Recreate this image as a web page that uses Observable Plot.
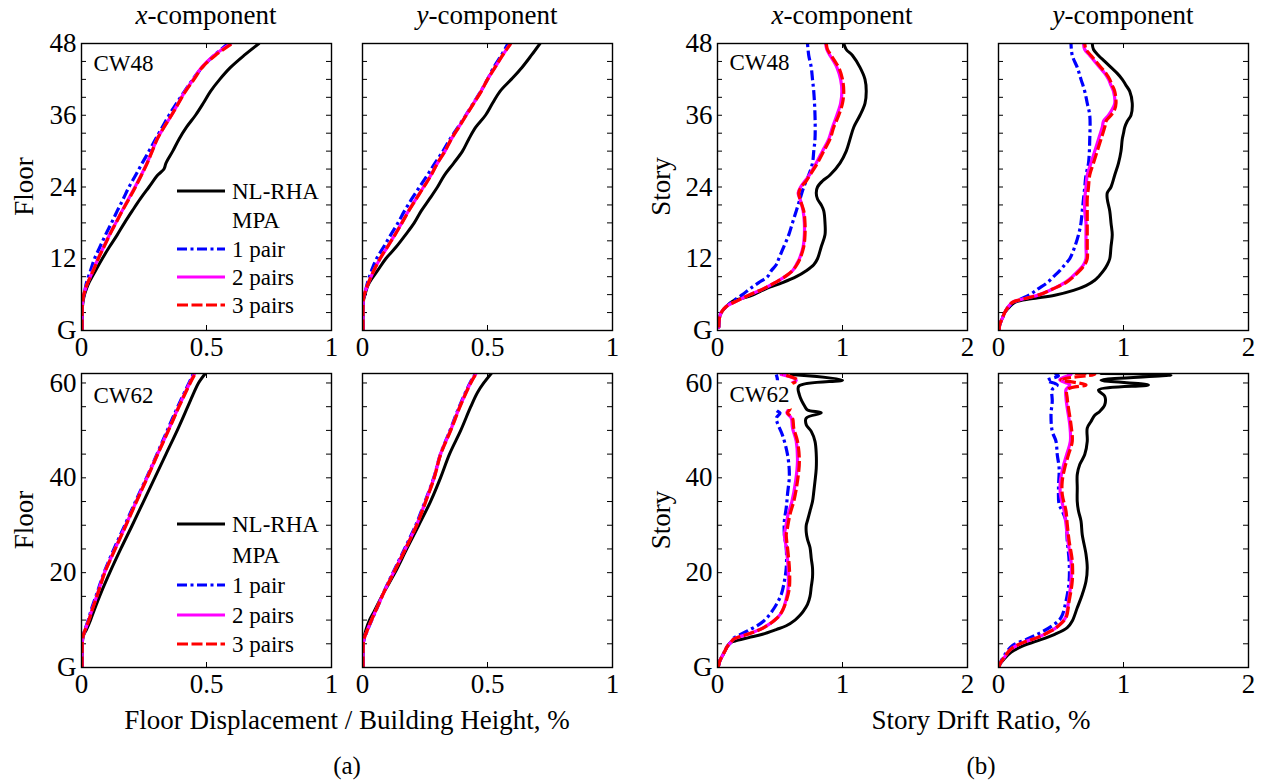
<!DOCTYPE html>
<html><head><meta charset="utf-8">
<script src="https://cdn.jsdelivr.net/npm/d3@7"></script>
<script src="https://cdn.jsdelivr.net/npm/@observablehq/plot@0.6"></script>
<style>
body{margin:0;background:#fff;}
#wrap{position:relative;width:1265px;height:782px;overflow:hidden;font-family:"Liberation Serif","Times New Roman",serif;}
</style></head><body><div id="wrap"></div>
<script>
// ---------- tick arrays ----------
const floorTicks48 = [0,3,6,9,12,15,18,21,24,27,30,33,36,39,42,45,48];
const floorLabels48 = [0,12,24,36,48];
const floorTicks62 = [0,5,10,15,20,25,30,35,40,45,50,55,60];
const floorLabels62 = [0,20,40,60];
const dispTicks = [0,0.5,1];
const driftTicks = [0,1,2];
const seriesNames = ["NL-RHA","1 pair","2 pairs","3 pairs"];

// ---------- CW48, floor displacement / height, x-component: [floor, %] ----------
const dispX48_NL = [[0,0.003],[4,0.004],[5,0.007],[6,0.012],[7,0.02],[8,0.03],[10,0.056],[12,0.083],[14,0.112],[16,0.143],[18,0.172],[20,0.203],[22,0.235],[24,0.27],[26,0.305],[27,0.33],[28,0.338],[30,0.365],[32,0.39],[34,0.42],[36,0.456],[38,0.487],[40,0.516],[42,0.553],[44,0.596],[46,0.65],[48,0.71]];
const dispX48_P1 = [[0,0.002],[4,0.003],[5,0.005],[6,0.01],[7,0.015],[8,0.02],[10,0.036],[12,0.052],[14,0.074],[16,0.096],[18,0.12],[20,0.143],[22,0.167],[24,0.19],[26,0.217],[28,0.243],[30,0.27],[32,0.296],[34,0.323],[36,0.35],[38,0.38],[40,0.412],[42,0.445],[44,0.483],[46,0.53],[48,0.587]];
const dispX48_P2 = [[0,0.002],[4,0.003],[5,0.005],[6,0.009],[7,0.016],[8,0.025],[10,0.046],[12,0.066],[14,0.089],[16,0.112],[18,0.137],[20,0.162],[22,0.188],[24,0.214],[26,0.239],[28,0.262],[30,0.282],[32,0.302],[34,0.33],[36,0.36],[38,0.387],[40,0.414],[42,0.447],[44,0.48],[46,0.53],[48,0.597]];
const dispX48_P3 = [[0,0.002],[4,0.003],[5,0.005],[6,0.009],[7,0.016],[8,0.025],[10,0.047],[12,0.067],[14,0.09],[16,0.113],[18,0.138],[20,0.163],[22,0.19],[24,0.216],[26,0.24],[28,0.263],[30,0.283],[32,0.303],[34,0.33],[36,0.36],[38,0.388],[40,0.416],[42,0.45],[44,0.483],[46,0.535],[48,0.603]];

// ---------- CW48, floor displacement, y-component ----------
const dispY48_NL = [[0,0.003],[5,0.004],[6,0.01],[7,0.017],[8,0.027],[10,0.06],[12,0.093],[14,0.135],[16,0.172],[18,0.207],[20,0.235],[22,0.268],[24,0.3],[26,0.328],[28,0.365],[30,0.4],[32,0.425],[34,0.453],[36,0.492],[38,0.52],[40,0.55],[42,0.595],[44,0.638],[46,0.675],[48,0.71]];
const dispY48_P1 = [[0,0.002],[5,0.003],[6,0.009],[7,0.014],[8,0.02],[10,0.036],[12,0.056],[14,0.085],[16,0.113],[18,0.142],[20,0.168],[22,0.197],[24,0.228],[26,0.26],[28,0.29],[30,0.322],[32,0.35],[34,0.382],[36,0.413],[38,0.443],[40,0.473],[42,0.5],[44,0.525],[46,0.555],[48,0.582]];
const dispY48_P2 = [[0,0.002],[5,0.003],[6,0.007],[7,0.015],[8,0.024],[10,0.045],[12,0.07],[14,0.1],[16,0.129],[18,0.157],[20,0.184],[22,0.214],[24,0.244],[26,0.274],[28,0.3],[30,0.33],[32,0.355],[34,0.385],[36,0.414],[38,0.444],[40,0.474],[42,0.5],[44,0.53],[46,0.56],[48,0.592]];
const dispY48_P3 = [[0,0.002],[5,0.003],[6,0.007],[7,0.015],[8,0.024],[10,0.045],[12,0.07],[14,0.1],[16,0.13],[18,0.158],[20,0.185],[22,0.215],[24,0.245],[26,0.275],[28,0.3],[30,0.33],[32,0.355],[34,0.385],[36,0.415],[38,0.445],[40,0.475],[42,0.5],[44,0.53],[46,0.56],[48,0.593]];

// ---------- CW62, floor displacement, x-component ----------
const dispX62_NL = [[0,0.003],[6,0.005],[7,0.01],[8,0.02],[10,0.036],[12,0.05],[16,0.08],[20,0.113],[25,0.157],[30,0.203],[35,0.248],[40,0.293],[45,0.338],[50,0.383],[55,0.425],[58,0.45],[60,0.468],[62,0.495]];
const dispX62_P1 = [[0,0.002],[6,0.004],[7,0.008],[8,0.014],[10,0.027],[12,0.038],[16,0.064],[20,0.09],[25,0.13],[30,0.173],[35,0.216],[40,0.26],[45,0.302],[50,0.343],[55,0.385],[60,0.43],[62,0.448]];
const dispX62_P2 = [[0,0.002],[6,0.004],[7,0.008],[8,0.015],[10,0.029],[12,0.041],[16,0.067],[20,0.092],[25,0.134],[30,0.177],[35,0.219],[40,0.262],[45,0.304],[50,0.347],[55,0.389],[60,0.433],[62,0.452]];
const dispX62_P3 = [[0,0.002],[6,0.004],[7,0.008],[8,0.015],[10,0.03],[12,0.042],[16,0.068],[20,0.093],[25,0.135],[30,0.178],[35,0.22],[40,0.263],[45,0.305],[50,0.348],[55,0.39],[60,0.435],[62,0.455]];

// ---------- CW62, floor displacement, y-component ----------
const dispY62_NL = [[0,0.003],[5,0.003],[6,0.005],[8,0.014],[10,0.028],[12,0.048],[16,0.087],[20,0.13],[25,0.177],[30,0.225],[35,0.272],[40,0.312],[45,0.348],[50,0.393],[55,0.433],[58,0.46],[60,0.485],[62,0.515]];
const dispY62_P1 = [[0,0.002],[5,0.003],[6,0.007],[8,0.021],[10,0.037],[12,0.054],[16,0.086],[20,0.122],[25,0.168],[30,0.213],[35,0.25],[40,0.285],[45,0.312],[50,0.35],[55,0.387],[60,0.43],[62,0.452]];
const dispY62_P2 = [[0,0.002],[5,0.003],[6,0.006],[8,0.02],[10,0.036],[12,0.053],[16,0.087],[20,0.124],[25,0.171],[30,0.216],[35,0.252],[40,0.286],[45,0.312],[50,0.352],[55,0.389],[60,0.432],[62,0.454]];
const dispY62_P3 = [[0,0.002],[5,0.003],[6,0.006],[8,0.02],[10,0.036],[12,0.053],[16,0.087],[20,0.125],[25,0.172],[30,0.217],[35,0.253],[40,0.287],[45,0.313],[50,0.353],[55,0.39],[60,0.433],[62,0.455]];

// ---------- CW48, story drift ratio, x-component: [story, %] ----------
const driftX48_NL = [[0.5,0.01],[2,0.015],[3,0.03],[4,0.07],[5,0.13],[5.5,0.22],[6,0.29],[7,0.39],[8,0.52],[9,0.63],[10,0.71],[11,0.77],[12,0.8],[14,0.83],[16,0.86],[18,0.86],[20,0.85],[21,0.83],[22,0.8],[23,0.79],[24,0.8],[25,0.84],[26,0.9],[28,0.98],[30,1.03],[32,1.06],[34,1.09],[36,1.14],[38,1.18],[40,1.19],[42,1.18],[44,1.14],[46,1.08],[47,1.03],[48,1.01]];
const driftX48_P1 = [[0.5,0.01],[2,0.015],[3,0.03],[4,0.07],[5,0.13],[6,0.2],[7,0.26],[8,0.33],[9,0.4],[10,0.43],[11,0.47],[12,0.49],[14,0.53],[16,0.57],[18,0.6],[20,0.63],[22,0.66],[24,0.69],[26,0.73],[28,0.76],[30,0.77],[32,0.78],[36,0.78],[40,0.77],[42,0.76],[44,0.75],[46,0.73],[48,0.72]];
const driftX48_P2 = [[0.5,0.01],[2,0.015],[3,0.03],[4,0.07],[5,0.16],[6,0.26],[7,0.37],[8,0.46],[9,0.54],[10,0.6],[11,0.63],[12,0.655],[14,0.685],[16,0.695],[18,0.695],[20,0.685],[22,0.66],[23,0.645],[24,0.665],[25,0.7],[26,0.735],[28,0.79],[30,0.84],[32,0.89],[34,0.92],[36,0.955],[38,0.985],[40,0.995],[42,0.985],[44,0.955],[45,0.93],[46,0.9],[47,0.875],[48,0.865]];
const driftX48_P3 = [[0.5,0.01],[2,0.015],[3,0.03],[4,0.07],[5,0.16],[6,0.26],[7,0.37],[8,0.46],[9,0.54],[10,0.6],[11,0.635],[12,0.66],[14,0.69],[16,0.7],[18,0.7],[20,0.69],[22,0.66],[23,0.65],[24,0.67],[25,0.71],[26,0.74],[28,0.8],[30,0.85],[32,0.9],[34,0.93],[36,0.97],[38,1.0],[40,1.01],[42,1.0],[44,0.97],[45,0.94],[46,0.91],[47,0.88],[48,0.87]];

// ---------- CW48, story drift ratio, y-component ----------
const driftY48_NL = [[0,0.005],[1,0.01],[2,0.03],[3,0.05],[4,0.09],[4.7,0.13],[5.3,0.26],[5.9,0.45],[6.7,0.6],[7.5,0.7],[8.4,0.77],[9,0.8],[10,0.84],[11,0.87],[12,0.89],[14,0.9],[16,0.91],[18,0.9],[20,0.89],[22,0.87],[23,0.87],[24,0.9],[26,0.93],[28,0.96],[30,0.98],[32,0.99],[33,1.0],[34,1.01],[35,1.03],[36,1.06],[38,1.07],[40,1.05],[41,1.02],[42,0.99],[43,0.95],[44,0.9],[45,0.85],[46,0.8],[47,0.76],[48,0.75]];
const driftY48_P1 = [[0,0.005],[1,0.01],[2,0.03],[3,0.05],[4,0.08],[5,0.15],[6,0.25],[7,0.32],[8,0.39],[9,0.44],[10,0.49],[11,0.53],[12,0.57],[14,0.61],[16,0.64],[18,0.66],[20,0.67],[22,0.68],[24,0.69],[26,0.7],[28,0.72],[32,0.73],[36,0.73],[38,0.71],[40,0.69],[42,0.66],[44,0.63],[46,0.59],[48,0.58]];
const driftY48_P2 = [[0,0.005],[1,0.01],[2,0.03],[3,0.05],[4,0.08],[4.7,0.11],[5.3,0.2],[6,0.33],[7,0.44],[8,0.53],[9,0.59],[10,0.64],[11,0.68],[12,0.7],[14,0.7],[16,0.7],[18,0.7],[20,0.69],[22,0.69],[24,0.7],[26,0.71],[28,0.74],[30,0.77],[32,0.8],[34,0.83],[35,0.84],[36,0.88],[37,0.91],[38,0.93],[40,0.92],[41,0.9],[42,0.88],[43,0.85],[44,0.81],[45,0.77],[46,0.73],[47,0.69],[48,0.68]];
const driftY48_P3 = [[0,0.005],[1,0.01],[2,0.03],[3,0.05],[4,0.08],[4.7,0.11],[5.3,0.2],[6,0.33],[7,0.44],[8,0.54],[9,0.6],[10,0.65],[11,0.69],[12,0.71],[14,0.71],[16,0.71],[18,0.71],[20,0.71],[22,0.71],[24,0.72],[26,0.73],[28,0.76],[30,0.79],[32,0.82],[34,0.85],[35,0.86],[36,0.9],[37,0.93],[38,0.94],[40,0.93],[41,0.91],[42,0.89],[43,0.86],[44,0.82],[45,0.78],[46,0.74],[47,0.7],[48,0.69]];

// ---------- CW62, story drift ratio, x-component ----------
const driftX62_NL = [[0,0.005],[1.5,0.02],[2.5,0.04],[3.5,0.06],[4.5,0.08],[5.2,0.1],[5.6,0.14],[6.3,0.25],[7,0.36],[8,0.47],[8.8,0.55],[10,0.62],[11,0.66],[12,0.69],[13.3,0.72],[15,0.74],[17,0.75],[19,0.76],[21,0.76],[23,0.75],[25.3,0.74],[27,0.72],[28.5,0.71],[30,0.71],[31,0.72],[33,0.74],[35,0.76],[37,0.77],[39.3,0.78],[42,0.79],[45,0.79],[47.7,0.78],[49.8,0.75],[51.2,0.71],[52.6,0.71],[53.7,0.83],[54.3,0.72],[55,0.7],[57.5,0.655],[59.3,0.65],[60.6,1.0],[61.8,0.59]];
const driftX62_P1 = [[0,0.005],[1.5,0.02],[2.5,0.04],[3.5,0.06],[4.5,0.08],[5.3,0.107],[6,0.12],[7.7,0.24],[9.8,0.37],[12.6,0.455],[15.4,0.51],[18.2,0.535],[21,0.55],[25.3,0.55],[28,0.535],[30.9,0.535],[33.7,0.55],[36.5,0.56],[40.7,0.575],[44.9,0.56],[49,0.52],[51.5,0.48],[52.6,0.47],[53.7,0.5],[54.3,0.47],[57,0.48],[59.3,0.47],[60.6,0.48],[61.8,0.47]];
const driftX62_P2 = [[0,0.005],[1.5,0.02],[2.5,0.04],[3.5,0.06],[4.5,0.08],[5.3,0.107],[6,0.13],[7,0.24],[8.4,0.37],[10.5,0.48],[12,0.52],[14,0.545],[16.8,0.565],[21,0.565],[25.3,0.55],[28,0.535],[29.5,0.545],[32.3,0.565],[35,0.595],[39.3,0.625],[43.5,0.64],[47.7,0.63],[50.5,0.6],[52.6,0.59],[53.7,0.555],[54.5,0.57],[57,0.56],[59.3,0.56],[60.6,0.63],[61.8,0.51]];
const driftX62_P3 = [[0,0.005],[1.5,0.02],[2.5,0.04],[3.5,0.06],[4.5,0.08],[5.3,0.107],[6,0.13],[7,0.24],[8.4,0.37],[10.5,0.48],[12,0.52],[14,0.55],[16.8,0.575],[21,0.575],[25.3,0.56],[28,0.55],[29.5,0.56],[32.3,0.58],[35,0.61],[39.3,0.64],[43.5,0.655],[47.7,0.64],[50.5,0.61],[52.6,0.6],[53.7,0.56],[54.5,0.58],[57,0.57],[59.3,0.57],[60.6,0.64],[61.8,0.52]];

// ---------- CW62, story drift ratio, y-component ----------
const driftY62_NL = [[0,0.005],[0.7,0.013],[1.8,0.045],[3.2,0.1],[4.6,0.2],[5.6,0.31],[7,0.45],[8.4,0.55],[9.8,0.59],[12.6,0.63],[15.4,0.67],[18.2,0.7],[21,0.71],[23.9,0.7],[28,0.67],[30.9,0.66],[33,0.64],[35,0.63],[37.9,0.63],[40.7,0.63],[42.8,0.65],[44.9,0.69],[47.7,0.71],[50.5,0.71],[51.9,0.74],[53.2,0.77],[54,0.81],[55.4,0.85],[57.2,0.85],[58.5,0.8],[59.6,1.2],[60.6,0.82],[61.7,1.38],[62,0.82]];
const driftY62_P1 = [[0,0.005],[0.7,0.01],[2.5,0.045],[4.6,0.11],[6,0.23],[7.4,0.34],[8.8,0.43],[10.5,0.5],[14,0.54],[18.2,0.565],[22.5,0.565],[26.7,0.55],[30.9,0.54],[33,0.51],[34.4,0.485],[37.9,0.48],[42,0.485],[44.9,0.47],[47.7,0.46],[49.8,0.43],[53.3,0.42],[56.1,0.43],[58.6,0.43],[59.6,0.47],[60.5,0.39],[61.5,0.48],[62,0.45]];
const driftY62_P2 = [[0,0.005],[0.7,0.01],[2.1,0.045],[3.9,0.1],[5.3,0.2],[6.3,0.31],[7.7,0.42],[8.8,0.48],[10.5,0.535],[14,0.56],[18.2,0.58],[22.5,0.58],[26.7,0.555],[30.2,0.54],[33,0.525],[36.5,0.495],[39.3,0.495],[42.1,0.515],[44.9,0.545],[47.7,0.575],[51.2,0.57],[54.7,0.55],[56.8,0.54],[58.6,0.54],[59.6,0.57],[60.7,0.49],[61.8,0.58],[62,0.56]];
const driftY62_P3 = [[0,0.005],[0.7,0.01],[2.1,0.045],[3.9,0.1],[5.3,0.2],[6.3,0.31],[7.7,0.42],[8.8,0.48],[10.5,0.54],[14,0.565],[18.2,0.59],[22.5,0.59],[26.7,0.565],[30.2,0.55],[33,0.54],[36.5,0.51],[39.3,0.51],[42.1,0.53],[44.9,0.56],[47.7,0.59],[51.2,0.58],[54.7,0.56],[56.8,0.55],[58.6,0.55],[59.6,0.7],[60.7,0.5],[61.8,0.77],[62,0.6]];

// ---------- styles & layout ----------
const lineStyles = [
  {stroke: "#000000", strokeWidth: 3},
  {stroke: "#0000ff", strokeWidth: 3.2, strokeDasharray: "10,3.5,3,3.5", strokeLinecap: "butt"},
  {stroke: "#ff00ff", strokeWidth: 3.2},
  {stroke: "#ff0000", strokeWidth: 3.2, strokeDasharray: "11,3.5", strokeLinecap: "butt"}
];
const FONT = '"Liberation Serif","Times New Roman",serif';
const FS = 27;
const wrap = document.getElementById("wrap");
const FW = 250;
const ML = 65, MR = 15, MT = 12, MB = 40;
const levelFormat = d => d === 0 ? "G" : String(d);

function makePanel(cfg) {
  const H = cfg.h;
  const marks = [
    Plot.tickY(cfg.yMinor, {y: d => d, insetRight: FW - 5, stroke: "black", strokeWidth: 1}),
    Plot.tickY(cfg.yMinor, {y: d => d, insetLeft: FW - 5, stroke: "black", strokeWidth: 1}),
    Plot.tickX(cfg.xTicks, {x: d => d, insetTop: H - 5, stroke: "black", strokeWidth: 1}),
    Plot.tickX(cfg.xTicks, {x: d => d, insetBottom: H - 5, stroke: "black", strokeWidth: 1}),
    Plot.axisX(cfg.xTicks, {tickSize: 0, tickPadding: 6, tickFormat: d => String(d), label: null, fontSize: FS, fill: "black"})
  ];
  if (cfg.showY) marks.push(Plot.axisY(cfg.yLabels, {tickSize: 0, tickPadding: 5, tickFormat: levelFormat, label: null, fontSize: FS, fill: "black"}));
  cfg.series.forEach((s, i) => {
    marks.push(Plot.line(s, {x: d => d[1], y: d => d[0], curve: "catmull-rom", clip: true, strokeLinejoin: "round", ...lineStyles[i]}));
  });
  if (cfg.tag) marks.push(Plot.text([cfg.tag], {text: d => d, frameAnchor: "top-left", dx: 12, dy: cfg.tagDy, textAnchor: "start", lineAnchor: "middle", fontSize: 23, fill: "black", stroke: "white", strokeWidth: cfg.halo || 0}));
  marks.push(Plot.frame({stroke: "black", strokeWidth: 1.4}));
  const svg = Plot.plot({
    width: ML + FW + MR, height: MT + H + MB,
    marginLeft: ML, marginRight: MR, marginTop: MT, marginBottom: MB,
    x: {domain: cfg.xDomain, axis: null},
    y: {domain: cfg.yDomain, axis: null},
    style: {fontFamily: FONT, fontSize: FS + "px", color: "black", background: "transparent", overflow: "visible"},
    marks
  });
  svg.style.position = "absolute";
  svg.style.left = (cfg.left - ML) + "px";
  svg.style.top = (cfg.top - MT) + "px";
  wrap.appendChild(svg);
}

const colLeft = [81, 362, 717, 998];
const rowTop = [43, 373];
const rowH = [287, 294];

const panels = [
  {left: colLeft[0], top: rowTop[0], h: rowH[0], xDomain: [0,1], xTicks: dispTicks, yDomain: [0,48], yMinor: floorTicks48, yLabels: floorLabels48, showY: true, series: [dispX48_NL, dispX48_P1, dispX48_P2, dispX48_P3], tag: "CW48", tagDy: 20},
  {left: colLeft[1], top: rowTop[0], h: rowH[0], xDomain: [0,1], xTicks: dispTicks, yDomain: [0,48], yMinor: floorTicks48, yLabels: floorLabels48, showY: false, series: [dispY48_NL, dispY48_P1, dispY48_P2, dispY48_P3]},
  {left: colLeft[2], top: rowTop[0], h: rowH[0], xDomain: [0,2], xTicks: driftTicks, yDomain: [0,48], yMinor: floorTicks48, yLabels: floorLabels48, showY: true, series: [driftX48_NL, driftX48_P1, driftX48_P2, driftX48_P3], tag: "CW48", tagDy: 19},
  {left: colLeft[3], top: rowTop[0], h: rowH[0], xDomain: [0,2], xTicks: driftTicks, yDomain: [0,48], yMinor: floorTicks48, yLabels: floorLabels48, showY: false, series: [driftY48_NL, driftY48_P1, driftY48_P2, driftY48_P3]},
  {left: colLeft[0], top: rowTop[1], h: rowH[1], xDomain: [0,1], xTicks: dispTicks, yDomain: [0,62], yMinor: floorTicks62, yLabels: floorLabels62, showY: true, series: [dispX62_NL, dispX62_P1, dispX62_P2, dispX62_P3], tag: "CW62", tagDy: 22},
  {left: colLeft[1], top: rowTop[1], h: rowH[1], xDomain: [0,1], xTicks: dispTicks, yDomain: [0,62], yMinor: floorTicks62, yLabels: floorLabels62, showY: false, series: [dispY62_NL, dispY62_P1, dispY62_P2, dispY62_P3]},
  {left: colLeft[2], top: rowTop[1], h: rowH[1], xDomain: [0,2], xTicks: driftTicks, yDomain: [0,62], yMinor: floorTicks62, yLabels: floorLabels62, showY: true, series: [driftX62_NL, driftX62_P1, driftX62_P2, driftX62_P3], tag: "CW62", tagDy: 21, halo: 14},
  {left: colLeft[3], top: rowTop[1], h: rowH[1], xDomain: [0,2], xTicks: driftTicks, yDomain: [0,62], yMinor: floorTicks62, yLabels: floorLabels62, showY: false, series: [driftY62_NL, driftY62_P1, driftY62_P2, driftY62_P3]}
];
panels.forEach(makePanel);

// ---------- overlay text & legends ----------
const ov = d3.create("svg").attr("width", 1265).attr("height", 782)
  .style("position", "absolute").style("left", "0px").style("top", "0px")
  .style("font-family", FONT).style("fill", "black");

function compTitle(cx, letter) {
  const t = ov.append("text").attr("x", cx).attr("y", 24).attr("text-anchor", "middle").attr("font-size", FS);
  t.append("tspan").attr("font-style", "italic").text(letter);
  t.append("tspan").text("-component");
}
colLeft.forEach((l, i) => compTitle(l + FW / 2, i % 2 === 0 ? "x" : "y"));

function rotLabel(x, y, txt) {
  ov.append("text").attr("transform", `translate(${x},${y}) rotate(-90)`).attr("text-anchor", "middle").attr("font-size", FS).text(txt);
}
rotLabel(33, rowTop[0] + rowH[0] / 2, "Floor");
rotLabel(33, rowTop[1] + rowH[1] / 2, "Floor");
rotLabel(670, rowTop[0] + rowH[0] / 2, "Story");
rotLabel(670, rowTop[1] + rowH[1] / 2, "Story");

ov.append("text").attr("x", 347).attr("y", 729).attr("text-anchor", "middle").attr("font-size", FS).text("Floor Displacement / Building Height, %");
ov.append("text").attr("x", 981).attr("y", 729).attr("text-anchor", "middle").attr("font-size", FS).text("Story Drift Ratio, %");
ov.append("text").attr("x", 347).attr("y", 774).attr("text-anchor", "middle").attr("font-size", 25).text("(a)");
ov.append("text").attr("x", 981).attr("y", 774).attr("text-anchor", "middle").attr("font-size", 25).text("(b)");

function legend(ys) {
  const rows = [{name: seriesNames[0], s: 0}, {name: "MPA", s: -1}, {name: seriesNames[1], s: 1}, {name: seriesNames[2], s: 2}, {name: seriesNames[3], s: 3}];
  rows.forEach((r, i) => {
    const y = ys[i];
    if (r.s >= 0) {
      const st = lineStyles[r.s];
      ov.append("line").attr("x1", 177).attr("x2", 225).attr("y1", y).attr("y2", y)
        .attr("stroke", st.stroke).attr("stroke-width", st.strokeWidth)
        .attr("stroke-dasharray", st.strokeDasharray || null);
    }
    ov.append("text").attr("x", 232).attr("y", y).attr("dy", "0.34em").attr("font-size", 23).text(r.name);
  });
}
legend([191, 220, 249, 277, 305]);
legend([524, 555, 585, 615, 644]);

wrap.appendChild(ov.node());
</script></body></html>
